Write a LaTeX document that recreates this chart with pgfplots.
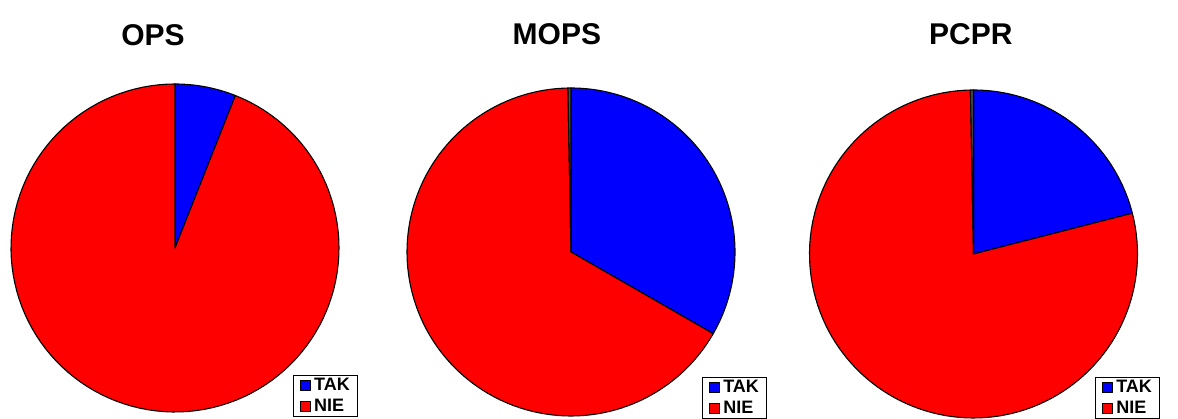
\documentclass[border=0pt]{standalone}
\usepackage{pgfplots}
\pgfplotsset{compat=1.18}
\usepgfplotslibrary{polar}
\usepackage{fontspec}
\setmainfont{Liberation Sans}
% Shares in percent
\def\opsTak{6.0}   \def\opsNie{94.0}
\def\mopsTak{33.3} \def\mopsNie{66.4} \def\mopsX{0.3}
\def\pcprTak{21.0} \def\pcprNie{78.7} \def\pcprX{0.3}
\pgfmathsetmacro{\opsA}{90-3.6*\opsTak}
\pgfmathsetmacro{\mopsA}{90-3.6*\mopsTak}
\pgfmathsetmacro{\mopsB}{90+3.6*\mopsX}
\pgfmathsetmacro{\pcprA}{90-3.6*\pcprTak}
\pgfmathsetmacro{\pcprB}{90+3.6*\pcprX}
\newcommand{\lf}{\bfseries\fontsize{18}{18}\selectfont}
\pgfplotsset{
  piestyle/.style={
    hide axis, scale only axis, width=328pt, height=328pt,
    ymin=0, ymax=1, clip=false,
    title style={font=\bfseries\fontsize{30}{30}\selectfont, anchor=center},
    legend style={draw=black, line width=1.2pt, fill=white,
      anchor=north west,
      inner xsep=6pt, inner ysep=1.5pt, row sep=4pt, column sep=2pt,
      nodes={inner sep=1.5pt}},
    legend cell align=left,
    legend image code/.code={\draw[##1, draw=black, line width=1pt] (0pt,-5pt) rectangle (10pt,5pt);},
  },
  slice/.style={draw=black, line width=1.1pt, line join=round, samples=120},
}
\begin{document}
\begin{tikzpicture}
\path[use as bounding box] (0,0) rectangle (1178pt,419pt);
% OPS
\begin{polaraxis}[piestyle, at={(11pt,7pt)}, anchor=south west,
  title={OPS}, title style={at={(0.433,1.106)}},
  legend style={at={(0.860,0.113)}}]
\addplot[slice, fill=blue, domain=\opsA:90] {1} -- (axis cs:0,0) -- cycle;
\addplot[slice, fill=red, domain=-270:\opsA] {1} -- (axis cs:0,0) -- cycle;
\legend{{\lf TAK},{\lf NIE}}
\end{polaraxis}
% MOPS
\begin{polaraxis}[piestyle, at={(407pt,3pt)}, anchor=south west,
  title={MOPS}, title style={at={(0.457,1.119)}},
  legend style={at={(0.900,0.119)}}]
\addplot[slice, fill=blue, domain=\mopsA:90] {1} -- (axis cs:0,0) -- cycle;
\addplot[slice, fill=red, domain=\mopsB:{\mopsA+360}] {1} -- (axis cs:0,0) -- cycle;
\addplot[slice, fill=black!70, domain=90:\mopsB, forget plot] {1} -- (axis cs:0,0) -- cycle;
\legend{{\lf TAK},{\lf NIE}}
\end{polaraxis}
% PCPR
\begin{polaraxis}[piestyle, at={(809.5pt,1pt)}, anchor=south west,
  title={PCPR}, title style={at={(0.492,1.125)}},
  legend style={at={(0.871,0.125)}}]
\addplot[slice, fill=blue, domain=\pcprA:90] {1} -- (axis cs:0,0) -- cycle;
\addplot[slice, fill=red, domain=\pcprB:{\pcprA+360}] {1} -- (axis cs:0,0) -- cycle;
\addplot[slice, fill=black!70, domain=90:\pcprB, forget plot] {1} -- (axis cs:0,0) -- cycle;
\legend{{\lf TAK},{\lf NIE}}
\end{polaraxis}
\end{tikzpicture}
\end{document}
